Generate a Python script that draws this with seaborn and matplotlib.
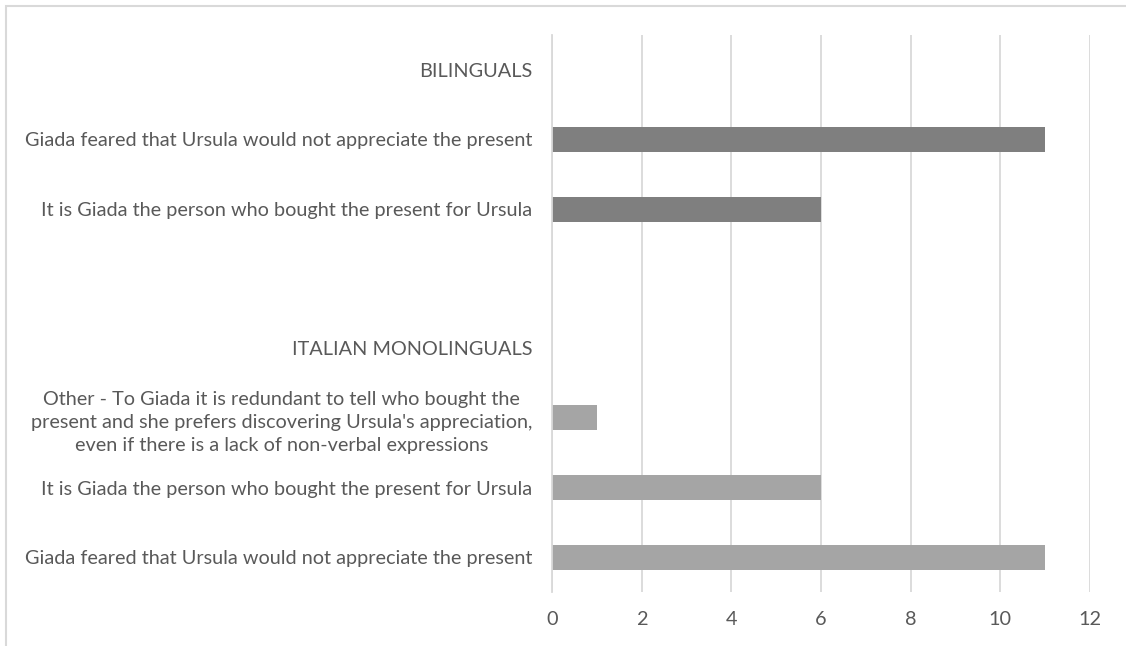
import matplotlib
matplotlib.use("Agg")
import matplotlib.pyplot as plt
import seaborn as sns
import pandas as pd

# Rows from top to bottom; headers and the spacer row carry no value
labels = [
    "BILINGUALS",
    "Giada feared that Ursula would not appreciate the present",
    "It is Giada the person who bought the present for Ursula",
    "",
    "ITALIAN MONOLINGUALS",
    "Other - To Giada it is redundant to tell who bought the\n"
    "present and she prefers discovering Ursula's appreciation,\n"
    "even if there is a lack of non-verbal expressions",
    "It is Giada the person who bought the present for Ursula",
    "Giada feared that Ursula would not appreciate the present",
]
groups = ["Bilinguals"] * 4 + ["Italian monolinguals"] * 4
values = [0, 11, 6, 0, 0, 1, 6, 11]
x_ticks = [0, 2, 4, 6, 8, 10, 12]

palette = {"Bilinguals": "#7f7f7f", "Italian monolinguals": "#a5a5a5"}
text_color = "#595959"
grid_color = "#d9d9d9"

keys = [f"{i}|{lab}" for i, lab in enumerate(labels)]
df = pd.DataFrame({"key": keys, "value": values, "group": groups})

sns.set_theme(style="white")
plt.rcParams["font.family"] = ["Lato", "DejaVu Sans"]

W, H = 1126, 646
fig = plt.figure(figsize=(W / 100, H / 100), dpi=100)
ax = fig.add_axes([552 / W, 1 - 592 / H, (1090 - 552) / W, (592 - 35) / H])

sns.barplot(data=df, x="value", y="key", hue="group", order=keys,
            palette=palette, dodge=False, width=0.36, legend=False,
            linewidth=0, ax=ax)

ax.set_xlim(0, 12)
ax.set_ylim(len(keys) - 0.5, -0.5)
ax.set_xticks(x_ticks)
ax.set_xticklabels([str(t) for t in x_ticks])
ax.set_yticks(range(len(labels)))
ax.set_yticklabels(labels, multialignment="center", linespacing=1.45)
ax.set_xlabel("")
ax.set_ylabel("")

ax.grid(axis="x", color=grid_color, linewidth=1.3)
ax.set_axisbelow(True)
for side in ["top", "right", "bottom"]:
    ax.spines[side].set_visible(False)
ax.spines["left"].set_color(grid_color)
ax.spines["left"].set_linewidth(1.3)

ax.tick_params(axis="y", length=0, pad=14, labelsize=14.3, labelcolor=text_color)
ax.tick_params(axis="x", length=0, pad=14, labelsize=14.3, labelcolor=text_color)

# outer chart frame
fig.add_artist(plt.Rectangle((5.5 / W, -0.1), 1.2, 1 - 5.5 / H + 0.1,
                             transform=fig.transFigure, fill=False,
                             edgecolor=grid_color, linewidth=1.5))

fig.savefig("out.png", dpi=100)
